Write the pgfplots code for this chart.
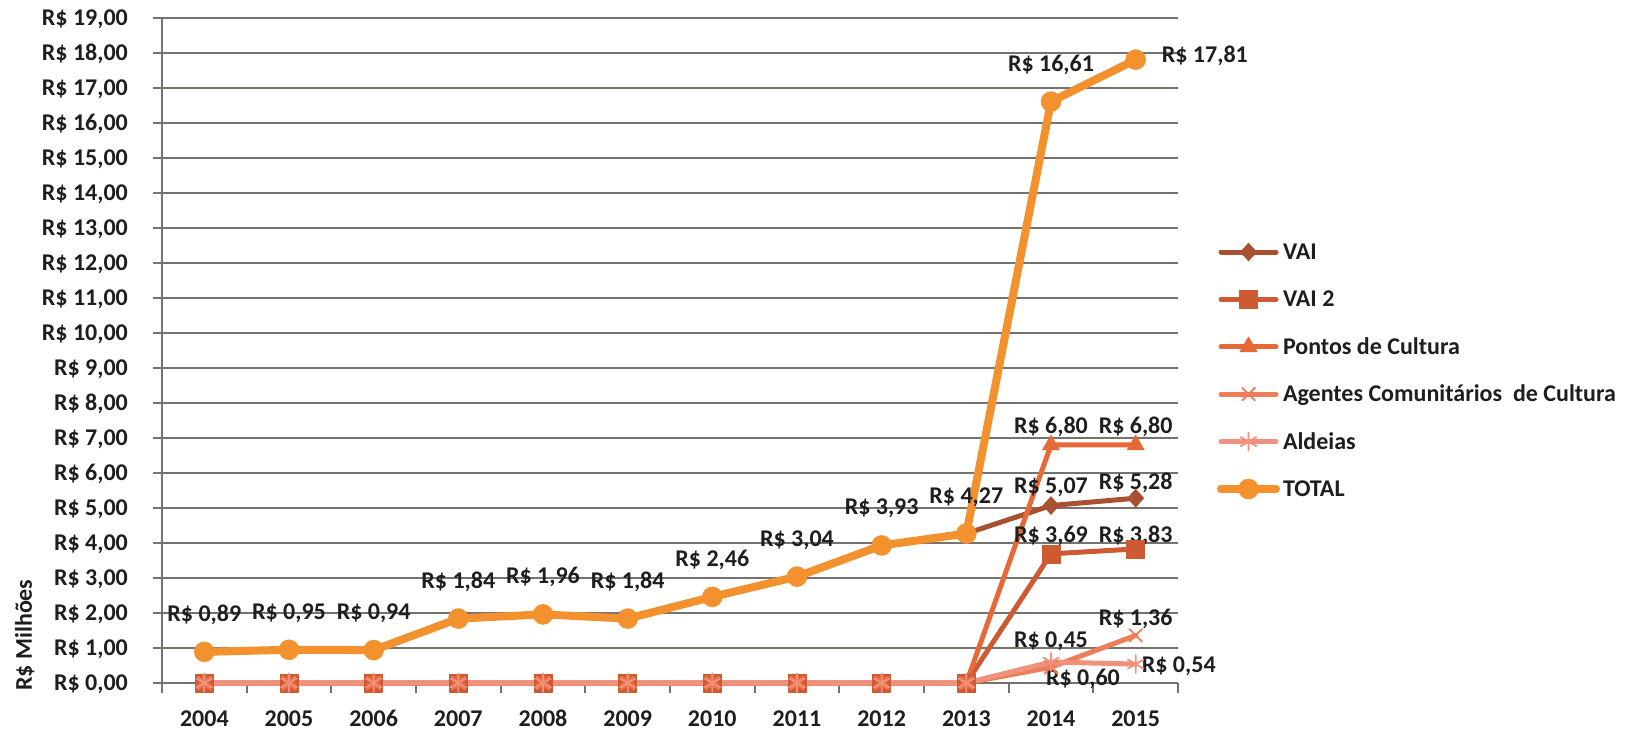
\documentclass[border=0pt]{standalone}
\usepackage{fontspec}
\setmainfont{Carlito}
\usepackage{pgfplots}
\pgfplotsset{compat=1.18}
\definecolor{cvai}{RGB}{168,80,48}
\definecolor{cvaii}{RGB}{205,90,50}
\definecolor{cpon}{RGB}{230,105,55}
\definecolor{cage}{RGB}{238,125,90}
\definecolor{cald}{RGB}{240,145,125}
\definecolor{ctot}{RGB}{242,145,45}
\definecolor{gridc}{RGB}{120,114,110}
\definecolor{txt}{RGB}{30,30,30}
\newcommand{\cf}{\fontsize{24bp}{28bp}\selectfont\bfseries}
\tikzset{lab/.style={font=\cf, text=txt, inner sep=0pt}}
\begin{document}
\begin{tikzpicture}
\begin{axis}[
  scale only axis, width=1016bp, height=665bp,
  xmin=2003.5, xmax=2015.5, ymin=0, ymax=19,
  clip=false,
  axis x line=bottom, axis y line=left,
  axis line style={-, draw=gridc, line width=2bp},
  tick align=outside,
  major tick length=9bp, minor tick length=10bp,
  tick style={draw=gridc, line width=2bp},
  major x tick style={draw=none},
  ymajorgrids, major grid style={draw=gridc, line width=2bp},
  xtick={2004,2005,...,2015},
  xticklabels={2004,2005,2006,2007,2008,2009,2010,2011,2012,2013,2014,2015},
  minor xtick={2003.5,2004.5,...,2015.5},
  ytick={0,1,...,19},
  yticklabels={{R\$ 0,00},{R\$ 1,00},{R\$ 2,00},{R\$ 3,00},{R\$ 4,00},{R\$ 5,00},{R\$ 6,00},{R\$ 7,00},{R\$ 8,00},{R\$ 9,00},{R\$ 10,00},{R\$ 11,00},{R\$ 12,00},{R\$ 13,00},{R\$ 14,00},{R\$ 15,00},{R\$ 16,00},{R\$ 17,00},{R\$ 18,00},{R\$ 19,00}},
  ticklabel style={font=\cf, text=txt},
  xticklabel style={anchor=base, inner sep=0pt, yshift=-34bp},
  yticklabel style={anchor=base east, inner sep=0pt, xshift=-25bp, yshift=-7.5bp},
  ylabel={\bfseries R\$ Milhões},
  ylabel style={font=\cf, text=txt, at={(axis description cs:-0.135,0.072)}, anchor=center, inner sep=0pt},
  legend style={at={(axis description cs:1.0384,0.6654)}, anchor=north west, draw=none, fill=none, inner sep=0pt, outer sep=0pt, row sep=24.4bp, font=\cf, text=txt, nodes={text height=19bp, text depth=4bp, inner xsep=3bp, inner ysep=0pt}},
  legend cell align=left,
  legend image code/.code={\draw[mark repeat=2,mark phase=2] plot coordinates {(0bp,0bp) (27.5bp,0bp) (55bp,0bp)};},
  every axis plot/.append style={line cap=round, line join=round},
]
\addplot[cvai, line width=5bp, mark=diamond*, mark size=9bp, mark options={solid, xscale=1.2, fill=cvai, draw=cvai, line width=0.5bp}] coordinates {
(2004,0.89) (2005,0.95) (2006,0.94) (2007,1.84) (2008,1.96) (2009,1.84) (2010,2.46) (2011,3.04) (2012,3.93) (2013,4.27) (2014,5.07) (2015,5.28)};
\addplot[cvaii, line width=5bp, mark=square*, mark size=9bp, mark options={solid, fill=cvaii, draw=cvaii, line width=0.5bp}] coordinates {
(2004,0) (2005,0) (2006,0) (2007,0) (2008,0) (2009,0) (2010,0) (2011,0) (2012,0) (2013,0) (2014,3.69) (2015,3.83)};
\addplot[cpon, line width=5bp, mark=triangle*, mark size=10bp, mark options={solid, fill=cpon, draw=cpon, line width=0.5bp}] coordinates {
(2004,0) (2005,0) (2006,0) (2007,0) (2008,0) (2009,0) (2010,0) (2011,0) (2012,0) (2013,0) (2014,6.80) (2015,6.80)};
\addplot[cage, line width=5bp, mark=x, mark size=9bp, mark options={solid, draw=cage, line width=1.8bp}] coordinates {
(2004,0) (2005,0) (2006,0) (2007,0) (2008,0) (2009,0) (2010,0) (2011,0) (2012,0) (2013,0) (2014,0.45) (2015,1.36)};
\addplot[cald, line width=5bp, mark=asterisk, mark size=9bp, mark options={solid, draw=cald, line width=1.8bp}] coordinates {
(2004,0) (2005,0) (2006,0) (2007,0) (2008,0) (2009,0) (2010,0) (2011,0) (2012,0) (2013,0) (2014,0.60) (2015,0.54)};
\addplot[ctot, line width=8bp, mark=*, mark size=10bp, mark options={solid, fill=ctot, draw=ctot, line width=0.5bp}] coordinates {
(2004,0.89) (2005,0.95) (2006,0.94) (2007,1.84) (2008,1.96) (2009,1.84) (2010,2.46) (2011,3.04) (2012,3.93) (2013,4.27) (2014,16.61) (2015,17.81)};
\legend{VAI, VAI 2, Pontos de Cultura, Agentes Comunitários~ de Cultura, Aldeias, TOTAL}
% data labels
\node[lab, anchor=base, yshift=30.5bp] at (axis cs:2004,0.89) {R\$ 0,89};
\node[lab, anchor=base, yshift=30.5bp] at (axis cs:2005,0.95) {R\$ 0,95};
\node[lab, anchor=base, yshift=30.5bp] at (axis cs:2006,0.94) {R\$ 0,94};
\node[lab, anchor=base, yshift=30.5bp] at (axis cs:2007,1.84) {R\$ 1,84};
\node[lab, anchor=base, yshift=30.5bp] at (axis cs:2008,1.96) {R\$ 1,96};
\node[lab, anchor=base, yshift=30.5bp] at (axis cs:2009,1.84) {R\$ 1,84};
\node[lab, anchor=base, yshift=30.5bp] at (axis cs:2010,2.46) {R\$ 2,46};
\node[lab, anchor=base, yshift=30.5bp] at (axis cs:2011,3.04) {R\$ 3,04};
\node[lab, anchor=base, yshift=30.5bp] at (axis cs:2012,3.93) {R\$ 3,93};
\node[lab, anchor=base, yshift=30.5bp] at (axis cs:2013,4.27) {R\$ 4,27};
\node[lab, anchor=base, yshift=30.5bp] at (axis cs:2014,16.61) {R\$ 16,61};
\node[lab, anchor=base west, xshift=26bp, yshift=-2.5bp] at (axis cs:2015,17.81) {R\$ 17,81};
\node[lab, anchor=base, yshift=12.5bp] at (axis cs:2014,5.07) {R\$ 5,07};
\node[lab, anchor=base, yshift=8.5bp] at (axis cs:2015,5.28) {R\$ 5,28};
\node[lab, anchor=base, yshift=11.5bp] at (axis cs:2014,3.69) {R\$ 3,69};
\node[lab, anchor=base, yshift=6.5bp] at (axis cs:2015,3.83) {R\$ 3,83};
\node[lab, anchor=base, yshift=11.5bp] at (axis cs:2014,6.80) {R\$ 6,80};
\node[lab, anchor=base, yshift=11.5bp] at (axis cs:2015,6.80) {R\$ 6,80};
\node[lab, anchor=base, yshift=19.5bp] at (axis cs:2014,0.45) {R\$ 0,45};
\node[lab, anchor=base, yshift=9.5bp] at (axis cs:2015,1.36) {R\$ 1,36};
\node[lab, anchor=base, xshift=32bp, yshift=-23.5bp] at (axis cs:2014,0.60) {R\$ 0,60};
\node[lab, anchor=base west, xshift=6bp, yshift=-8.5bp] at (axis cs:2015,0.54) {R\$ 0,54};
\end{axis}
\path (current axis.south west) ++(-162bp,-48bp) rectangle ++(1641bp,731bp);
\end{tikzpicture}
\end{document}
